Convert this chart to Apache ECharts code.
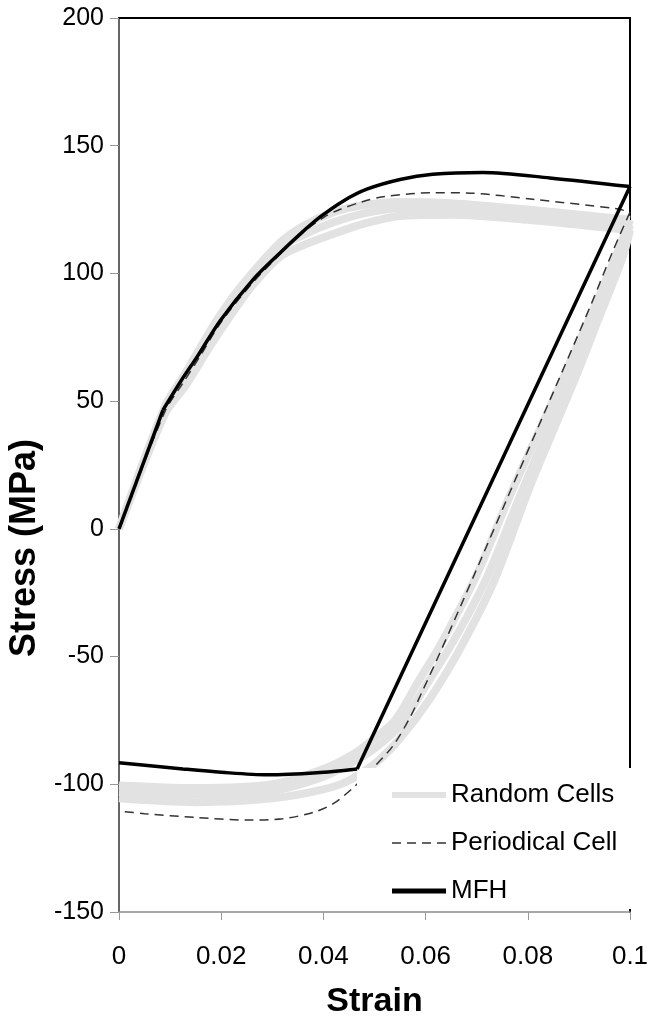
<!DOCTYPE html>
<html>
<head>
<meta charset="utf-8">
<script src="https://cdn.jsdelivr.net/npm/echarts@6/dist/echarts.min.js"></script>
<style>
  html, body { margin: 0; padding: 0; background: #fff; }
  #chart { width: 650px; height: 1023px; }
</style>
</head>
<body>
<div id="chart"></div>
<script>
// strain / stress pairs, split into loading and unloading branches
const random1Load = [
  [0, 0], [0.009, 48], [0.013, 61], [0.018, 78], [0.022, 90], [0.026, 100], [0.0315, 112],
  [0.036, 118.5], [0.042, 124], [0.048, 126.8], [0.055, 128], [0.065, 127.5], [0.08, 125],
  [0.0974, 121.5], [0.1, 121]
];
const random1Unload = [
  [0.1, 121], [0.0975, 108], [0.092, 82], [0.086, 55], [0.0765, 13], [0.07, -18], [0.063, -45],
  [0.0585, -60], [0.054, -75], [0.05, -82], [0.046, -88], [0.04, -94], [0.03, -100],
  [0.015, -101.5], [0, -100.5]
];
const random2Load = [
  [0, 0], [0.009, 46], [0.013, 58], [0.018, 74], [0.022, 86], [0.026, 97], [0.0315, 110],
  [0.036, 115], [0.042, 120], [0.048, 123.5], [0.055, 125.5], [0.065, 125.5], [0.08, 123],
  [0.0974, 119.5], [0.1, 119]
];
const random2Unload = [
  [0.1, 119], [0.098, 107], [0.0935, 85], [0.0877, 57], [0.0785, 13], [0.072, -19], [0.066, -42],
  [0.0605, -60], [0.055, -77], [0.05, -86], [0.046, -91], [0.04, -97], [0.03, -102.5],
  [0.015, -104], [0, -103]
];
const random3Load = [
  [0, 0], [0.009, 45], [0.013, 56], [0.018, 72], [0.022, 84], [0.026, 95], [0.0315, 106.5],
  [0.036, 111], [0.042, 115.5], [0.048, 119.5], [0.055, 122.5], [0.065, 123], [0.08, 121],
  [0.0974, 117.5], [0.1, 117]
];
const random3Unload = [
  [0.1, 117], [0.0985, 106], [0.094, 83], [0.0895, 60], [0.0805, 17], [0.0735, -20], [0.067, -46],
  [0.061, -66], [0.055, -82], [0.05, -92], [0.045, -98.5], [0.04, -102], [0.03, -105.5],
  [0.015, -107], [0, -105.5]
];
const periodicalLoad = [
  [0, 0], [0.009, 46], [0.0125, 57], [0.016, 68], [0.02, 81], [0.026, 96], [0.0315, 107.5],
  [0.036, 116], [0.0405, 122.5], [0.0432, 125], [0.0475, 128], [0.0517, 130], [0.0614, 131.6],
  [0.068, 131.5], [0.081, 129], [0.0974, 125.3], [0.1, 124]
];
const periodicalUnload = [
  [0.1, 124], [0.0967, 109], [0.0922, 87], [0.0838, 48], [0.0775, 19], [0.0693, -19], [0.0628, -48.6],
  [0.0595, -63], [0.0569, -74], [0.0536, -85], [0.05, -93], [0.046, -101], [0.042, -107.5],
  [0.038, -111], [0.032, -113.5], [0.025, -114], [0.015, -113], [0.005, -111.5], [0, -110.5]
];
const mfhElastic = [[0, 0], [0.0086, 46.5]];
const mfhHardening = [
  [0.0086, 46.5], [0.012, 57.5], [0.0155, 68], [0.0198, 81.5], [0.0262, 97.5], [0.0315, 108],
  [0.0355, 115.5], [0.0393, 122], [0.044, 128.5], [0.0485, 133], [0.055, 136.8], [0.0614, 138.8],
  [0.0712, 139.5], [0.0843, 137.4], [0.1, 134]
];
const mfhUnload = [[0.1, 134], [0.0466, -94]];
const mfhReverse = [
  [0.0466, -94], [0.0387, -95.5], [0.029, -96.3], [0.02, -95.3], [0.0125, -94], [0, -91.6]
];
const legendNames = ['Random Cells', 'Periodical Cell', 'MFH'];

const chart = echarts.init(document.getElementById('chart'));
const font = "'Liberation Sans', Arial, sans-serif";

const styles = {
  'Random Cells': { lineStyle: { color: '#e2e2e2', width: 8 }, z: 2 },
  'Periodical Cell': { lineStyle: { color: '#333', width: 1.5, type: [9, 6] }, z: 3 },
  'MFH': { lineStyle: { color: '#000', width: 3.5 }, z: 4 }
};
const legendWidths = { 'Random Cells': 6, 'Periodical Cell': 1.5, 'MFH': 5 };

function curve(name, data, smooth) {
  const s = styles[name];
  return {
    name: name,
    type: 'line',
    data: data,
    smooth: smooth,
    showSymbol: false,
    symbol: 'none',
    legendIcon: 'none',
    lineStyle: s.lineStyle,
    itemStyle: { color: s.lineStyle.color },
    z: s.z
  };
}

const option = {
  animation: false,
  backgroundColor: '#fff',
  textStyle: { fontFamily: font },
  grid: { left: 119, right: 20, top: 18, bottom: 111, outerBoundsMode: 'none', containLabel: false },
  legend: {
    data: legendNames.map(n => ({ name: n, lineStyle: { width: legendWidths[n] } })),
    orient: 'vertical',
    left: 357,
    top: 768,
    itemWidth: 54,
    itemHeight: 14,
    itemGap: 22,
    padding: [14, 25, 5, 32],
    backgroundColor: '#fff',
    itemStyle: { opacity: 0 },
    textStyle: { fontSize: 26, color: '#000', fontFamily: font }
  },
  xAxis: [{
    type: 'value',
    min: 0,
    max: 0.1,
    interval: 0.02,
    axisLine: { onZero: false, lineStyle: { color: '#8a8a8a', width: 1.5 } },
    axisTick: { length: 8, lineStyle: { color: '#999' } },
    axisLabel: { fontSize: 26, color: '#000', margin: 32, fontFamily: font },
    splitLine: { show: false },
    name: 'Strain',
    nameLocation: 'middle',
    nameGap: 73,
    nameTextStyle: { fontSize: 34, fontWeight: 'bold', color: '#000', fontFamily: font }
  }, {
    type: 'value',
    position: 'top',
    min: 0,
    max: 0.1,
    axisLine: { onZero: false, lineStyle: { color: '#000', width: 2 } },
    axisTick: { show: false },
    axisLabel: { show: false },
    splitLine: { show: false }
  }],
  yAxis: [{
    type: 'value',
    min: -150,
    max: 200,
    interval: 50,
    axisLine: { show: true, onZero: false, lineStyle: { color: '#666', width: 2 } },
    axisTick: { show: true, length: 9, lineStyle: { color: '#999' } },
    axisLabel: { fontSize: 25, color: '#000', margin: 15, fontFamily: font },
    splitLine: { show: false },
    name: 'Stress (MPa)',
    nameLocation: 'middle',
    nameGap: 53,
    nameRotate: 90,
    nameTextStyle: {
      fontSize: 36, fontWeight: 'bold', color: '#000', fontFamily: font,
      padding: [0, 166, 0, 0]
    }
  }, {
    type: 'value',
    position: 'right',
    min: -150,
    max: 200,
    axisLine: { show: true, onZero: false, lineStyle: { color: '#000', width: 2 } },
    axisTick: { show: false },
    axisLabel: { show: false },
    splitLine: { show: false }
  }],
  series: [
    curve('Random Cells', random1Load, 0.3),
    curve('Random Cells', random1Unload, 0.3),
    curve('Random Cells', random2Load, 0.3),
    curve('Random Cells', random2Unload, 0.3),
    curve('Random Cells', random3Load, 0.3),
    curve('Random Cells', random3Unload, 0.3),
    curve('Periodical Cell', periodicalLoad, 0.3),
    curve('Periodical Cell', periodicalUnload, 0.3),
    curve('MFH', mfhElastic, false),
    curve('MFH', mfhHardening, 0.3),
    curve('MFH', mfhUnload, false),
    curve('MFH', mfhReverse, 0.3)
  ]
};

chart.setOption(option);
</script>
</body>
</html>
